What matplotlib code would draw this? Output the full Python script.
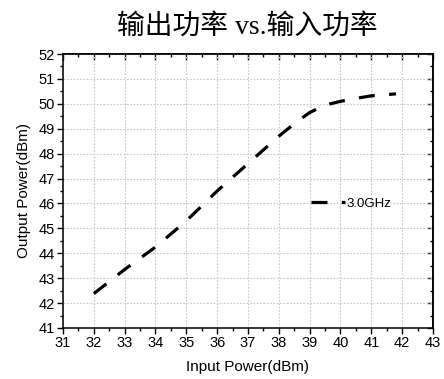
import matplotlib
matplotlib.use("Agg")
import matplotlib.pyplot as plt
from matplotlib.ticker import MultipleLocator

# values
input_dbm = [32, 33, 34, 35, 36, 37, 38, 38.5, 39, 39.5, 40, 40.5, 41, 41.8]
output_dbm = [42.38, 43.35, 44.25, 45.3, 46.5, 47.6, 48.7, 49.2, 49.65, 49.95, 50.1, 50.22, 50.32, 50.4]
series_label = "3.0GHz"
title = "输出功率 vs.输入功率"
xlabel = "Input Power(dBm)"
ylabel = "Output Power(dBm)"

plt.rcParams['font.family'] = ['Liberation Sans', 'Noto Sans CJK SC']

fig = plt.figure(figsize=(4.44, 3.79), dpi=100)
ax = fig.add_axes([0.1419, 0.1346, 0.8333, 0.7229])

ax.plot(input_dbm, output_dbm, color='black', lw=2.3, ls=(0, (5, 4.5)),
        label=series_label)

ax.set_xlim(31, 43)
ax.set_ylim(41, 52)
ax.xaxis.set_major_locator(MultipleLocator(1))
ax.xaxis.set_minor_locator(MultipleLocator(0.5))
ax.yaxis.set_major_locator(MultipleLocator(1))
ax.yaxis.set_minor_locator(MultipleLocator(0.5))
ax.tick_params(which='major', direction='out', length=4, width=1, labelsize=10.5, pad=2)
ax.tick_params(which='minor', direction='out', length=2.5, width=1)
ax.grid(True, which='major', color='#c8c8c8', ls=(0, (1.5, 1.5)), lw=0.8)

# mirrored ticks on top and right, pointing inward
top = ax.secondary_xaxis('top')
top.xaxis.set_major_locator(MultipleLocator(1))
top.xaxis.set_minor_locator(MultipleLocator(0.5))
top.tick_params(which='major', direction='in', length=4, width=1, labeltop=False)
top.tick_params(which='minor', direction='in', length=2.5, width=1)
right = ax.secondary_yaxis('right')
right.yaxis.set_major_locator(MultipleLocator(1))
right.yaxis.set_minor_locator(MultipleLocator(0.5))
right.tick_params(which='major', direction='in', length=4, width=1, labelright=False)
right.tick_params(which='minor', direction='in', length=2.5, width=1)

for a in (ax, top, right):
    for s in a.spines.values():
        s.set_linewidth(1.1)

ax.set_xlabel(xlabel, fontsize=11, labelpad=7)
ax.set_ylabel(ylabel, fontsize=11, labelpad=5)

fig.text(0.556, 0.93, title, ha='center', va='center', fontsize=20,
         family=['Liberation Serif', 'Noto Sans CJK SC'], fontweight='light')

ax.legend(loc='center left', bbox_to_anchor=(0.67, 0.4526), frameon=False,
          fontsize=9.5, handlelength=2.6, handletextpad=0.1, borderpad=0,
          borderaxespad=0)

fig.savefig("out.png", dpi=100)
